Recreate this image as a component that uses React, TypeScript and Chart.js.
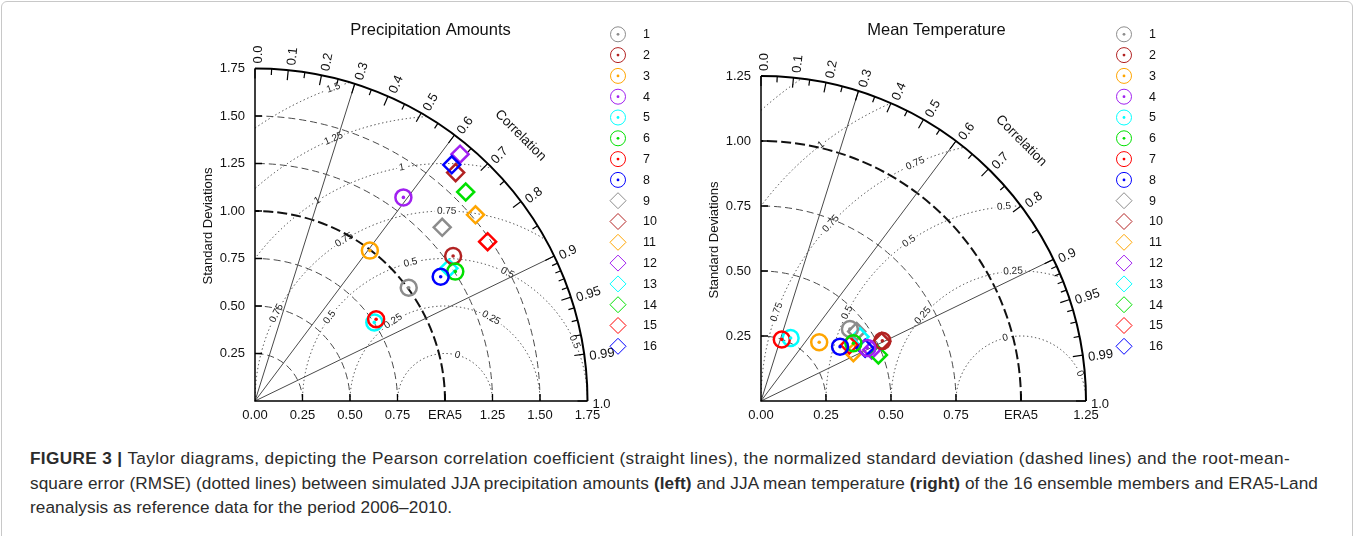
import React, { useEffect, useRef } from "react";
import { Chart, registerables } from "chart.js";

Chart.register(...registerables);

// ---------------- data ----------------
const members = ["1", "2", "3", "4", "5", "6", "7", "8", "9", "10", "11", "12", "13", "14", "15", "16"];
const memberColors = [
  "#8c8c8c", "#b22222", "#ffa500", "#a020f0", "#00ffff", "#00e000", "#ff0000", "#0000ff",
  "#8c8c8c", "#b22222", "#ffa500", "#a020f0", "#00ffff", "#00e000", "#ff0000", "#0000ff",
];
const memberMarkers = [
  "circle", "circle", "circle", "circle", "circle", "circle", "circle", "circle",
  "diamond", "diamond", "diamond", "diamond", "diamond", "diamond", "diamond", "diamond",
];

// normalized standard deviation and correlation, precipitation
const precipStd = [1.005, 1.292, 0.996, 1.326, 0.752, 1.255, 0.769, 1.176, 1.344, 1.6, 1.519, 1.689, 1.237, 1.562, 1.484, 1.618];
const precipCorr = [0.805, 0.807, 0.607, 0.589, 0.835, 0.84, 0.829, 0.831, 0.733, 0.66, 0.764, 0.639, 0.825, 0.71, 0.825, 0.64];

// normalized standard deviation and correlation, temperature
const tempStd = [0.44, 0.521, 0.318, 0.457, 0.268, 0.419, 0.25, 0.369, 0.455, 0.517, 0.401, 0.469, 0.454, 0.485, 0.402, 0.449];
const tempCorr = [0.777, 0.896, 0.704, 0.895, 0.425, 0.848, 0.32, 0.824, 0.809, 0.897, 0.886, 0.908, 0.839, 0.931, 0.845, 0.892];

const precipStdTicks = [0, 0.25, 0.5, 0.75, 1, 1.25, 1.5, 1.75];
const precipXTickLabels = ["0.00", "0.25", "0.50", "0.75", "ERA5", "1.25", "1.50", "1.75"];
const precipYTickLabels = ["", "0.25", "0.50", "0.75", "1.00", "1.25", "1.50", "1.75"];
const tempStdTicks = [0, 0.25, 0.5, 0.75, 1, 1.25];
const tempXTickLabels = ["0.00", "0.25", "0.50", "0.75", "ERA5", "1.25"];
const tempYTickLabels = ["", "0.25", "0.50", "0.75", "1.00", "1.25"];

const corrMajorTicks = [0, 0.1, 0.2, 0.3, 0.4, 0.5, 0.6, 0.7, 0.8, 0.9, 0.95, 0.99, 1];
const corrMajorLabels = ["0.0", "0.1", "0.2", "0.3", "0.4", "0.5", "0.6", "0.7", "0.8", "0.9", "0.95", "0.99", "1.0"];
const corrMinorTicks = [0.05, 0.15, 0.25, 0.35, 0.45, 0.55, 0.65, 0.75, 0.85, 0.91, 0.92, 0.93, 0.94, 0.96, 0.97, 0.98];
const corrLines = [0.3, 0.6, 0.9];

const precipRmse = [0.25, 0.5, 0.75, 1, 1.25, 1.5, 1.75];
const precipRmseLabels = ["0", "0.25", "0.5", "0.75", "1", "1.25", "1.5"];
const tempRmse = [0.25, 0.5, 0.75, 1, 1.25, 1.5];
const tempRmseLabels = ["0", "0.25", "0.5", "0.75", "1", ""];

// ---------------- layout (label angles around the reference point, degrees) ----------------
const precipRmseLabelAngles = [[75], [123, 61], [144, 104, 64, 24.5], [152.5, 122, 89.5], [122.5, 100.5], [113], [109.6]];
const tempRmseLabelAngles = [[104, 25], [139, 93.5], [153, 125, 95], [160, 137, 114], [128], []];

const FONT = "'Liberation Sans', Arial, Helvetica, sans-serif";

type Cfg = {
  title: string;
  max: number;
  std: number[];
  corr: number[];
  stdTicks: number[];
  xLabels: string[];
  yLabels: string[];
  rmse: number[];
  rmseLabels: string[];
  rmseAngles: number[][];
  axisLabelY: number;
};

function drawGrid(chart: any, cfg: Cfg) {
  const { ctx, scales } = chart;
  const xs = scales.x;
  const ys = scales.y;
  const ox = xs.getPixelForValue(0);
  const oy = ys.getPixelForValue(0);
  const k = xs.getPixelForValue(1) - ox;
  const Rp = cfg.max * k;
  const cx = xs.getPixelForValue(1);
  const cy = oy;
  const D = Math.PI / 180;

  ctx.save();
  // RMSE dotted arcs
  ctx.save();
  ctx.beginPath();
  ctx.moveTo(ox, oy);
  ctx.arc(ox, oy, Rp, 0, -Math.PI / 2, true);
  ctx.closePath();
  ctx.clip();
  ctx.strokeStyle = "#3a3a3a";
  ctx.lineWidth = 1;
  ctx.setLineDash([1.3, 2.7]);
  cfg.rmse.forEach((r) => {
    ctx.beginPath();
    ctx.arc(cx, cy, r * k, Math.PI, 2 * Math.PI);
    ctx.stroke();
  });
  ctx.setLineDash([]);
  ctx.font = `10px ${FONT}`;
  ctx.textAlign = "center";
  ctx.textBaseline = "middle";
  cfg.rmse.forEach((r, i) => {
    const txt = cfg.rmseLabels[i];
    if (!txt) return;
    (cfg.rmseAngles[i] || []).forEach((a) => {
      const px = cx + r * k * Math.cos(a * D);
      const py = cy - r * k * Math.sin(a * D);
      ctx.save();
      ctx.translate(px, py);
      ctx.rotate((90 - a) * D);
      const w = ctx.measureText(txt).width;
      ctx.fillStyle = "#ffffff";
      ctx.fillRect(-w / 2 - 2, -5, w + 4, 10);
      ctx.fillStyle = "#222";
      ctx.fillText(txt, 0, 0);
      ctx.restore();
    });
  });
  ctx.restore();

  // std dashed arcs
  cfg.stdTicks.forEach((s) => {
    if (s <= 0 || s >= cfg.max) return;
    const ref = Math.abs(s - 1) < 1e-9;
    ctx.setLineDash(ref ? [10, 4] : [7, 4]);
    ctx.lineWidth = ref ? 2 : 1;
    ctx.strokeStyle = ref ? "#111" : "#4a4a4a";
    ctx.beginPath();
    ctx.arc(ox, oy, s * k, 0, -Math.PI / 2, true);
    ctx.stroke();
  });
  ctx.setLineDash([]);

  // correlation lines
  ctx.strokeStyle = "#4a4a4a";
  ctx.lineWidth = 1;
  corrLines.forEach((c) => {
    const t = Math.acos(c);
    ctx.beginPath();
    ctx.moveTo(ox, oy);
    ctx.lineTo(ox + Rp * Math.cos(t), oy - Rp * Math.sin(t));
    ctx.stroke();
  });

  // axes
  ctx.strokeStyle = "#000";
  ctx.lineWidth = 1.5;
  ctx.beginPath();
  ctx.moveTo(ox, oy - Rp);
  ctx.lineTo(ox, oy);
  ctx.lineTo(ox + Rp, oy);
  ctx.stroke();
  // outer arc
  ctx.lineWidth = 2;
  ctx.beginPath();
  ctx.arc(ox, oy, Rp, 0, -Math.PI / 2, true);
  ctx.stroke();

  // axis ticks
  ctx.lineWidth = 1.3;
  cfg.stdTicks.forEach((s) => {
    if (s <= 0 || s >= cfg.max) return;
    ctx.beginPath();
    ctx.moveTo(ox + s * k, oy);
    ctx.lineTo(ox + s * k, oy - 7);
    ctx.moveTo(ox, oy - s * k);
    ctx.lineTo(ox + 7, oy - s * k);
    ctx.stroke();
  });

  // correlation ticks
  ctx.lineWidth = 1.2;
  corrMajorTicks.forEach((c) => {
    const t = Math.acos(c);
    ctx.beginPath();
    ctx.moveTo(ox + Rp * Math.cos(t), oy - Rp * Math.sin(t));
    ctx.lineTo(ox + (Rp - 10) * Math.cos(t), oy - (Rp - 10) * Math.sin(t));
    ctx.stroke();
  });
  corrMinorTicks.forEach((c) => {
    const t = Math.acos(c);
    ctx.beginPath();
    ctx.moveTo(ox + Rp * Math.cos(t), oy - Rp * Math.sin(t));
    ctx.lineTo(ox + (Rp - 6) * Math.cos(t), oy - (Rp - 6) * Math.sin(t));
    ctx.stroke();
  });

  // correlation labels
  ctx.fillStyle = "#111";
  ctx.font = `13px ${FONT}`;
  ctx.textAlign = "left";
  ctx.textBaseline = "middle";
  corrMajorTicks.forEach((c, i) => {
    const t = Math.acos(c);
    ctx.save();
    ctx.translate(ox + (Rp + 5) * Math.cos(t), oy - (Rp + 5) * Math.sin(t));
    ctx.rotate(-t);
    ctx.fillText(corrMajorLabels[i], 0, 3);
    ctx.restore();
  });
  // "Correlation"
  ctx.save();
  ctx.translate(ox + (Rp + 43) * Math.cos(Math.PI / 4), oy - (Rp + 43) * Math.sin(Math.PI / 4));
  ctx.rotate(Math.PI / 4);
  ctx.textAlign = "center";
  ctx.font = `13.5px ${FONT}`;
  ctx.fillText("Correlation", 0, 0);
  ctx.restore();

  // std tick labels
  ctx.font = `13px ${FONT}`;
  ctx.textAlign = "center";
  ctx.textBaseline = "middle";
  cfg.stdTicks.forEach((s, i) => {
    ctx.fillText(cfg.xLabels[i], ox + s * k, oy + 14);
  });
  ctx.textAlign = "right";
  cfg.stdTicks.forEach((s, i) => {
    if (cfg.yLabels[i]) ctx.fillText(cfg.yLabels[i], ox - 10, oy - s * k);
  });
  // y axis title
  ctx.save();
  ctx.translate(ox - 47, cfg.axisLabelY);
  ctx.rotate(-Math.PI / 2);
  ctx.textAlign = "center";
  ctx.fillText("Standard Deviations", 0, 0);
  ctx.restore();
  // title
  ctx.font = `16.5px ${FONT}`;
  ctx.textAlign = "center";
  ctx.fillText(cfg.title, ox + 175.5, 30);
  ctx.restore();
}

function drawLegend(chart: any) {
  const { ctx, scales } = chart;
  const ox = scales.x.getPixelForValue(0);
  const lx = ox + 363;
  ctx.save();
  ctx.font = `12.5px ${FONT}`;
  ctx.textAlign = "left";
  ctx.textBaseline = "middle";
  members.forEach((m, i) => {
    const y = 34.3 + i * 20.8;
    const col = memberColors[i];
    ctx.strokeStyle = col;
    ctx.fillStyle = col;
    ctx.lineWidth = 1;
    if (memberMarkers[i] === "circle") {
      ctx.beginPath();
      ctx.arc(lx, y, 7.5, 0, 2 * Math.PI);
      ctx.stroke();
      ctx.beginPath();
      ctx.arc(lx, y, 1.4, 0, 2 * Math.PI);
      ctx.fill();
    } else {
      ctx.beginPath();
      ctx.moveTo(lx - 8, y);
      ctx.lineTo(lx, y - 8);
      ctx.lineTo(lx + 8, y);
      ctx.lineTo(lx, y + 8);
      ctx.closePath();
      ctx.stroke();
    }
    ctx.fillStyle = "#111";
    ctx.fillText(m, lx + 25, y + 0.5);
  });
  ctx.restore();
}

function TaylorChart(props: { cfg: Cfg; left: number; width: number; height: number; pad: any }) {
  const ref = useRef<HTMLCanvasElement | null>(null);
  const { cfg, left, width, height, pad } = props;
  useEffect(() => {
    if (!ref.current) return;
    const idx = members.map((_, i) => i);
    const circ = idx.filter((i) => memberMarkers[i] === "circle");
    const diam = idx.filter((i) => memberMarkers[i] === "diamond");
    const pts = (ids: number[]) =>
      ids.map((i) => ({ x: cfg.std[i] * cfg.corr[i], y: cfg.std[i] * Math.sqrt(1 - cfg.corr[i] * cfg.corr[i]) }));
    const cols = (ids: number[]) => ids.map((i) => memberColors[i]);
    const plugin = {
      id: "taylor",
      beforeDatasetsDraw(chart: any) {
        drawGrid(chart, cfg);
      },
      afterDraw(chart: any) {
        drawLegend(chart);
      },
    };
    const chart = new Chart(ref.current, {
      type: "scatter",
      data: {
        datasets: [
          {
            label: "dots",
            data: pts(circ),
            pointStyle: "circle",
            pointRadius: 1.8,
            pointBorderWidth: 0,
            pointBackgroundColor: cols(circ),
            pointBorderColor: cols(circ),
            clip: false,
          } as any,
          {
            label: "circles",
            data: pts(circ),
            pointStyle: "circle",
            pointRadius: 8,
            pointBorderWidth: 2.5,
            pointBackgroundColor: "rgba(0,0,0,0)",
            pointBorderColor: cols(circ),
            clip: false,
          } as any,
          {
            label: "diamonds",
            data: pts(diam),
            pointStyle: "rectRot",
            pointRadius: 8.5,
            pointBorderWidth: 2.5,
            pointBackgroundColor: "rgba(0,0,0,0)",
            pointBorderColor: cols(diam),
            clip: false,
          } as any,
        ],
      },
      options: {
        animation: false,
        responsive: false,
        maintainAspectRatio: false,
        devicePixelRatio: 1,
        events: [],
        layout: { padding: pad },
        scales: {
          x: { type: "linear", min: 0, max: cfg.max, display: false },
          y: { type: "linear", min: 0, max: cfg.max, display: false },
        },
        plugins: { legend: { display: false }, tooltip: { enabled: false } },
      },
      plugins: [plugin],
    } as any);
    return () => chart.destroy();
  }, []);
  return (
    <canvas
      ref={ref}
      width={width}
      height={height}
      style={{ position: "absolute", left, top: 0, width, height }}
    />
  );
}

const precipCfg: Cfg = {
  title: "Precipitation Amounts",
  max: 1.75,
  std: precipStd,
  corr: precipCorr,
  stdTicks: precipStdTicks,
  xLabels: precipXTickLabels,
  yLabels: precipYTickLabels,
  rmse: precipRmse,
  rmseLabels: precipRmseLabels,
  rmseAngles: precipRmseLabelAngles,
  axisLabelY: 226,
};

const tempCfg: Cfg = {
  title: "Mean Temperature",
  max: 1.25,
  std: tempStd,
  corr: tempCorr,
  stdTicks: tempStdTicks,
  xLabels: tempXTickLabels,
  yLabels: tempYTickLabels,
  rmse: tempRmse,
  rmseLabels: tempRmseLabels,
  rmseAngles: tempRmseLabelAngles,
  axisLabelY: 240,
};

// caption line widths (layout targets)
const captionTargets = [1260, 1288];

function Caption() {
  const r0 = useRef<HTMLDivElement | null>(null);
  const r1 = useRef<HTMLDivElement | null>(null);
  const r2 = useRef<HTMLDivElement | null>(null);
  useEffect(() => {
    const els = [r0.current, r1.current];
    const sp: number[] = [];
    els.forEach((el, i) => {
      if (!el) return;
      const w = el.getBoundingClientRect().width;
      const n = (el.textContent || "").length;
      const s = (captionTargets[i] - w) / n;
      sp.push(s);
      el.style.letterSpacing = `${s}px`;
    });
    if (r2.current && sp.length) r2.current.style.letterSpacing = `${Math.min(sp[0], sp[1])}px`;
  }, []);
  const line: React.CSSProperties = {
    position: "absolute",
    left: 30,
    display: "inline-block",
    whiteSpace: "nowrap",
    fontSize: 17.2,
    lineHeight: "20px",
    color: "#2b2b2b",
  };
  return (
    <>
      <div ref={r0} style={{ ...line, top: 448 }}>
        <b>FIGURE 3 |</b> Taylor diagrams, depicting the Pearson correlation coefficient (straight lines), the normalized standard deviation (dashed lines) and the root-mean-
      </div>
      <div ref={r1} style={{ ...line, top: 473 }}>
        square error (RMSE) (dotted lines) between simulated JJA precipitation amounts <b>(left)</b> and JJA mean temperature <b>(right)</b> of the 16 ensemble members and ERA5-Land
      </div>
      <div ref={r2} style={{ ...line, top: 497 }}>
        reanalysis as reference data for the period 2006–2010.
      </div>
    </>
  );
}

export default function App() {
  return (
    <div
      style={{
        position: "absolute",
        left: 0,
        top: 0,
        width: 1356,
        height: 536,
        background: "#fff",
        overflow: "hidden",
        fontFamily: FONT,
      }}
    >
      <div
        style={{
          position: "absolute",
          left: 1,
          top: 1,
          width: 1352,
          height: 560,
          border: "1px solid #c8c8c8",
          borderRadius: 6,
          boxSizing: "border-box",
        }}
      />
      <TaylorChart cfg={precipCfg} left={180} width={510} height={440} pad={{ left: 75, top: 68.5, right: 102.5, bottom: 39 }} />
      <TaylorChart cfg={tempCfg} left={690} width={520} height={440} pad={{ left: 71, top: 76, right: 124, bottom: 39 }} />
      <Caption />
    </div>
  );
}
